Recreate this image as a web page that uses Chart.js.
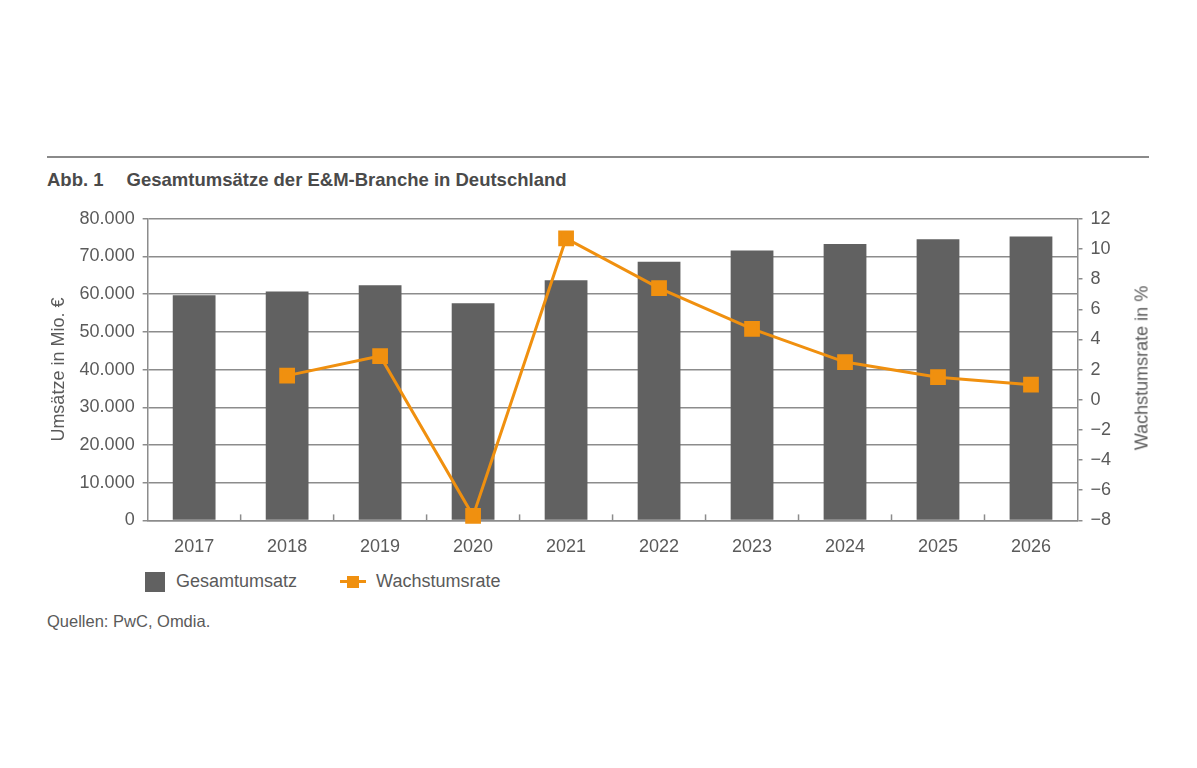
<!DOCTYPE html>
<html lang="de">
<head>
<meta charset="utf-8">
<title>Gesamtumsätze der E&amp;M-Branche in Deutschland</title>
<script src="https://cdn.jsdelivr.net/npm/chart.js@4"></script>
<style>
  body { margin: 0; background: #fff; font-family: "Liberation Sans", Arial, sans-serif; color: #5a5a5a; }
  .rule { position: absolute; left: 47px; top: 156px; width: 1102px; height: 0; border-top: 2px solid #8a8a8a; }
  .title { position: absolute; left: 47px; top: 169px; font-size: 18.5px; font-weight: bold; color: #4a4a4a; }
  .title span { margin-left: 23px; }
  #wrap { position: absolute; left: 40px; top: 200px; width: 1125px; height: 366px; }
  .ytitle-right { position: absolute; left: 1142px; top: 368px; width: 0; height: 0; }
  .ytitle-right div { position: absolute; left: 0; top: 0; white-space: nowrap; font-size: 18px; color: #5a5a5a;
    transform: translate(-50%, -50%) rotate(-90deg); }
  .legend { position: absolute; left: 145px; top: 570px; font-size: 18px; color: #5a5a5a; }
  .legend .item { display: inline-block; vertical-align: middle; margin-right: 38px; }
  .swatch { display: inline-block; width: 20px; height: 20px; background: #616161; vertical-align: middle; margin-right: 11px; }
  .lineswatch { display: inline-block; position: relative; width: 26px; height: 20px; vertical-align: middle; margin-right: 10px; }
  .lineswatch::before { content: ""; position: absolute; left: 0; top: 8.5px; width: 26px; height: 3px; background: #f0900f; }
  .lineswatch::after { content: ""; position: absolute; left: 7px; top: 4px; width: 12px; height: 12px; background: #f0900f; }
  .source { position: absolute; left: 47px; top: 612px; font-size: 16.5px; color: #5a5a5a; }
</style>
</head>
<body>
<div class="rule"></div>
<div class="title">Abb. 1<span>Gesamtumsätze der E&amp;M-Branche in Deutschland</span></div>
<div id="wrap"><canvas id="chart"></canvas></div>
<div class="ytitle-right"><div>Wachstumsrate in %</div></div>
<div class="legend">
  <span class="item"><span class="swatch"></span>Gesamtumsatz</span>
  <span class="item"><span class="lineswatch"></span>Wachstumsrate</span>
</div>
<div class="source">Quellen: PwC, Omdia.</div>

<script>
// -------------------------------
// Data
// -------------------------------
const years = ["2017", "2018", "2019", "2020", "2021", "2022", "2023", "2024", "2025", "2026"];
const umsatz = [59700, 60700, 62400, 57600, 63700, 68600, 71600, 73300, 74600, 75300];
const wachstum = [null, 1.6, 2.9, -7.7, 10.7, 7.4, 4.7, 2.5, 1.5, 1.0];

const grey = "#616161";
const orange = "#f0900f";
const textColor = "#5a5a5a";
const gridColor = "#8c8c8c";
const font = { family: "Liberation Sans", size: 18 };

function formatDe(v) {
  return v.toString().replace(/\B(?=(\d{3})+(?!\d))/g, ".");
}

// small ticks between categories, pointing up into the plot
const innerTicks = {
  id: "innerTicks",
  afterDatasetsDraw(chart) {
    const x = chart.scales.x;
    const bottom = chart.chartArea.bottom;
    const c = chart.ctx;
    const half = (x.getPixelForValue(1) - x.getPixelForValue(0)) / 2;
    c.save();
    c.strokeStyle = gridColor;
    c.lineWidth = 1.5;
    for (let i = 1; i < years.length; i++) {
      const px = x.getPixelForValue(i) - half;
      c.beginPath();
      c.moveTo(px, bottom);
      c.lineTo(px, bottom - 6);
      c.stroke();
    }
    c.restore();
  }
};

// -------------------------------
// Chart
// -------------------------------
const ctx = document.getElementById("chart");

new Chart(ctx, {
  data: {
    labels: years,
    datasets: [
      {
        type: "line",
        label: "Wachstumsrate",
        data: wachstum,
        yAxisID: "y2",
        borderColor: orange,
        backgroundColor: orange,
        borderWidth: 3,
        pointStyle: "rect",
        pointRadius: 9,
        pointHoverRadius: 9,
        tension: 0,
        clip: false,
        order: 0
      },
      {
        type: "bar",
        label: "Gesamtumsatz",
        data: umsatz,
        yAxisID: "y",
        backgroundColor: grey,
        barPercentage: 0.46,
        categoryPercentage: 1,
        order: 1
      }
    ]
  },
  options: {
    responsive: true,
    maintainAspectRatio: false,
    animation: false,
    layout: { padding: { top: 6, right: 46, bottom: 0, left: 4 } },
    plugins: {
      legend: { display: false },
      tooltip: { enabled: false }
    },
    scales: {
      x: {
        grid: { display: false },
        border: { color: gridColor, width: 1.5 },
        ticks: { color: textColor, font: font, padding: 8 }
      },
      y: {
        position: "left",
        min: 0,
        max: 80000,
        ticks: {
          stepSize: 10000,
          color: textColor,
          font: font,
          padding: 8,
          callback: v => formatDe(v)
        },
        grid: { color: gridColor, lineWidth: 1.5, tickLength: 5 },
        border: { color: gridColor, width: 1.5 },
        title: {
          display: true,
          text: "Umsätze in Mio. €",
          color: textColor,
          font: font,
          padding: { bottom: 2 }
        }
      },
      y2: {
        position: "right",
        min: -8,
        max: 12,
        ticks: {
          stepSize: 2,
          color: textColor,
          font: font,
          padding: 8,
          callback: v => String(v).replace("-", "\u2212")
        },
        grid: { drawOnChartArea: false, color: gridColor, lineWidth: 1.5, tickLength: 5 },
        border: { color: gridColor, width: 1.5 }
      }
    }
  },
  plugins: [innerTicks]
});
</script>
</body>
</html>
